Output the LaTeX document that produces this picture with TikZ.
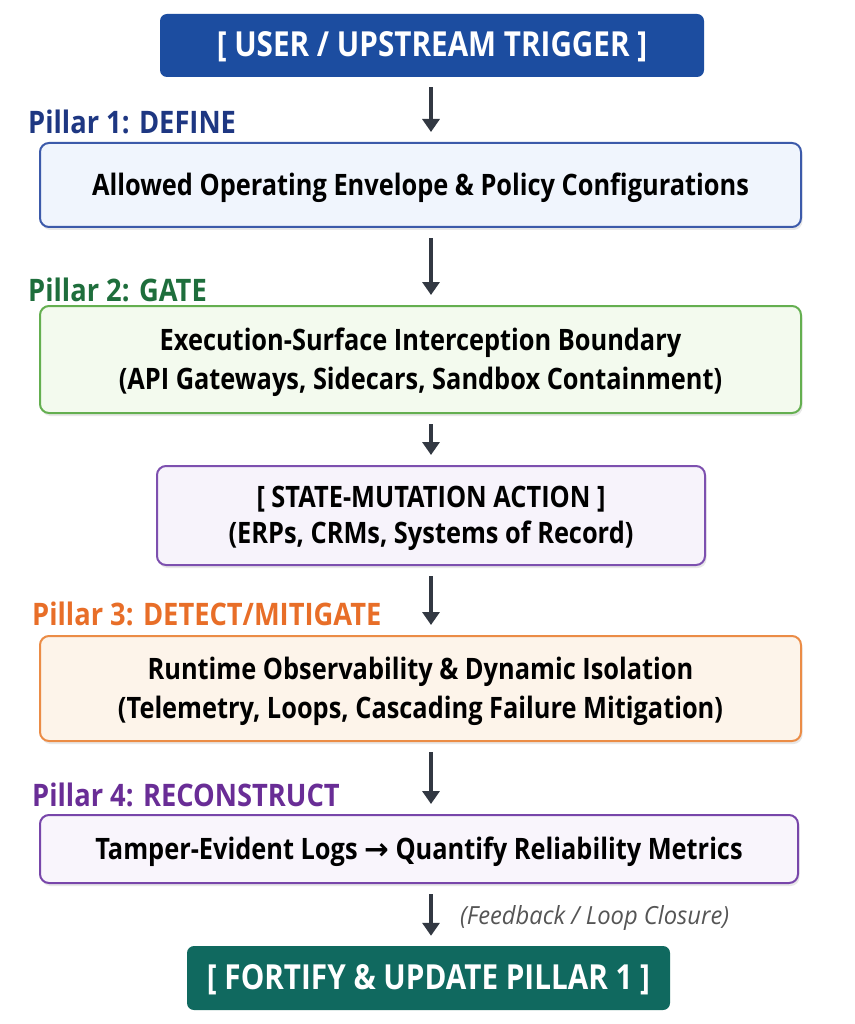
\documentclass[tikz,border=0pt]{standalone}
\usepackage{fontspec}
\setmainfont{Open Sans}[FakeStretch=0.86]
\newfontfamily\labelfont{Open Sans}[FakeStretch=0.88]
\newfontfamily\fbfont{Open Sans}[FakeStretch=0.95]
\usetikzlibrary{arrows.meta,shadows,calc}
\definecolor{topblue}{RGB}{28,77,160}
\definecolor{pone}{RGB}{30,55,130}
\definecolor{bonebd}{RGB}{60,90,170}
\definecolor{bonefill}{RGB}{240,245,253}
\definecolor{ptwo}{RGB}{30,110,60}
\definecolor{btwobd}{RGB}{100,175,80}
\definecolor{btwofill}{RGB}{243,250,238}
\definecolor{bthreebd}{RGB}{125,80,175}
\definecolor{bthreefill}{RGB}{247,243,251}
\definecolor{pthree}{RGB}{232,110,40}
\definecolor{bfourbd}{RGB}{235,140,70}
\definecolor{bfourfill}{RGB}{253,244,234}
\definecolor{pfour}{RGB}{105,45,150}
\definecolor{bfivebd}{RGB}{120,70,170}
\definecolor{bfivefill}{RGB}{249,245,252}
\definecolor{teal6}{RGB}{16,105,95}
\definecolor{arrowc}{RGB}{50,56,66}
\definecolor{fbgray}{RGB}{85,85,85}
\tikzset{
  box/.style={rectangle, rounded corners=9pt, inner sep=0pt, line width=2pt, align=center,
    text=black, text depth=2pt, font=\fontsize{29.5}{39}\selectfont\bfseries,
    drop shadow={opacity=0.18, shadow xshift=1.5pt, shadow yshift=-3pt}},
  solidbox/.style={rectangle, rounded corners=7pt, inner sep=0pt, align=center,
    text=white, text depth=2pt, font=\fontsize{34.5}{40}\selectfont\bfseries},
  pillar/.style={anchor=west, inner sep=0pt, font=\labelfont\fontsize{31}{34}\selectfont\bfseries},
  arr/.style={draw=arrowc, line width=4pt, -{Triangle[length=13pt,width=17pt]}, shorten <=10pt, shorten >=10pt}
}
\begin{document}
\begin{tikzpicture}[x=1pt,y=-1pt]
\useasboundingbox[fill=white] (0,0) rectangle (854,1024);
\coordinate (ax) at (431,0);
\node[solidbox, fill=topblue, minimum width=544pt, minimum height=63pt] (top) at (432,45.5) {[ USER / UPSTREAM TRIGGER ]};
\node[pillar, text=pone] (p1) at (28,122) {Pillar 1: DEFINE};
\node[box, draw=bonebd, fill=bonefill, minimum width=761pt, minimum height=84pt] (b1) at (420.5,185) {Allowed Operating Envelope \& Policy Configurations};
\node[pillar, text=ptwo] (p2) at (28,290) {Pillar 2: GATE};
\node[box, draw=btwobd, fill=btwofill, minimum width=761pt, minimum height=107pt] (b2) at (420.5,359.5) {Execution-Surface Interception Boundary\\(API Gateways, Sidecars, Sandbox Containment)};
\node[box, draw=bthreebd, fill=bthreefill, minimum width=548pt, minimum height=99pt, font=\fontsize{29.5}{36}\selectfont\bfseries] (b3) at (431,515.5) {[ STATE-MUTATION ACTION ]\\(ERPs, CRMs, Systems of Record)};
\node[pillar, text=pthree] (p3) at (32,614) {Pillar 3: DETECT/MITIGATE};
\node[box, draw=bfourbd, fill=bfourfill, minimum width=761pt, minimum height=105pt] (b4) at (420.5,688.5) {Runtime Observability \& Dynamic Isolation\\(Telemetry, Loops, Cascading Failure Mitigation)};
\node[pillar, text=pfour] (p4) at (32,795) {Pillar 4: RECONSTRUCT};
\node[box, draw=bfivebd, fill=bfivefill, minimum width=758pt, minimum height=68pt] (b5) at (419,849) {Tamper-Evident Logs {\fontspec{DejaVu Sans}\bfseries →} Quantify Reliability Metrics};
\node[anchor=west, inner sep=0pt, text=fbgray, font=\fbfont\fontsize{25}{28}\selectfont\itshape] (fb) at (460,918) {(Feedback / Loop Closure)};
\node[solidbox, fill=teal6, minimum width=483pt, minimum height=64pt] (b6) at (428.5,978) {[ FORTIFY \& UPDATE PILLAR 1 ]};
\draw[arr] (top.south -| ax) -- (b1.north -| ax);
\draw[arr] (b1.south -| ax) -- (b2.north -| ax);
\draw[arr] (b2.south -| ax) -- (b3.north -| ax);
\draw[arr] (b3.south -| ax) -- (b4.north -| ax);
\draw[arr] (b4.south -| ax) -- (b5.north -| ax);
\draw[arr] (b5.south -| ax) -- (b6.north -| ax);
\end{tikzpicture}
\end{document}
